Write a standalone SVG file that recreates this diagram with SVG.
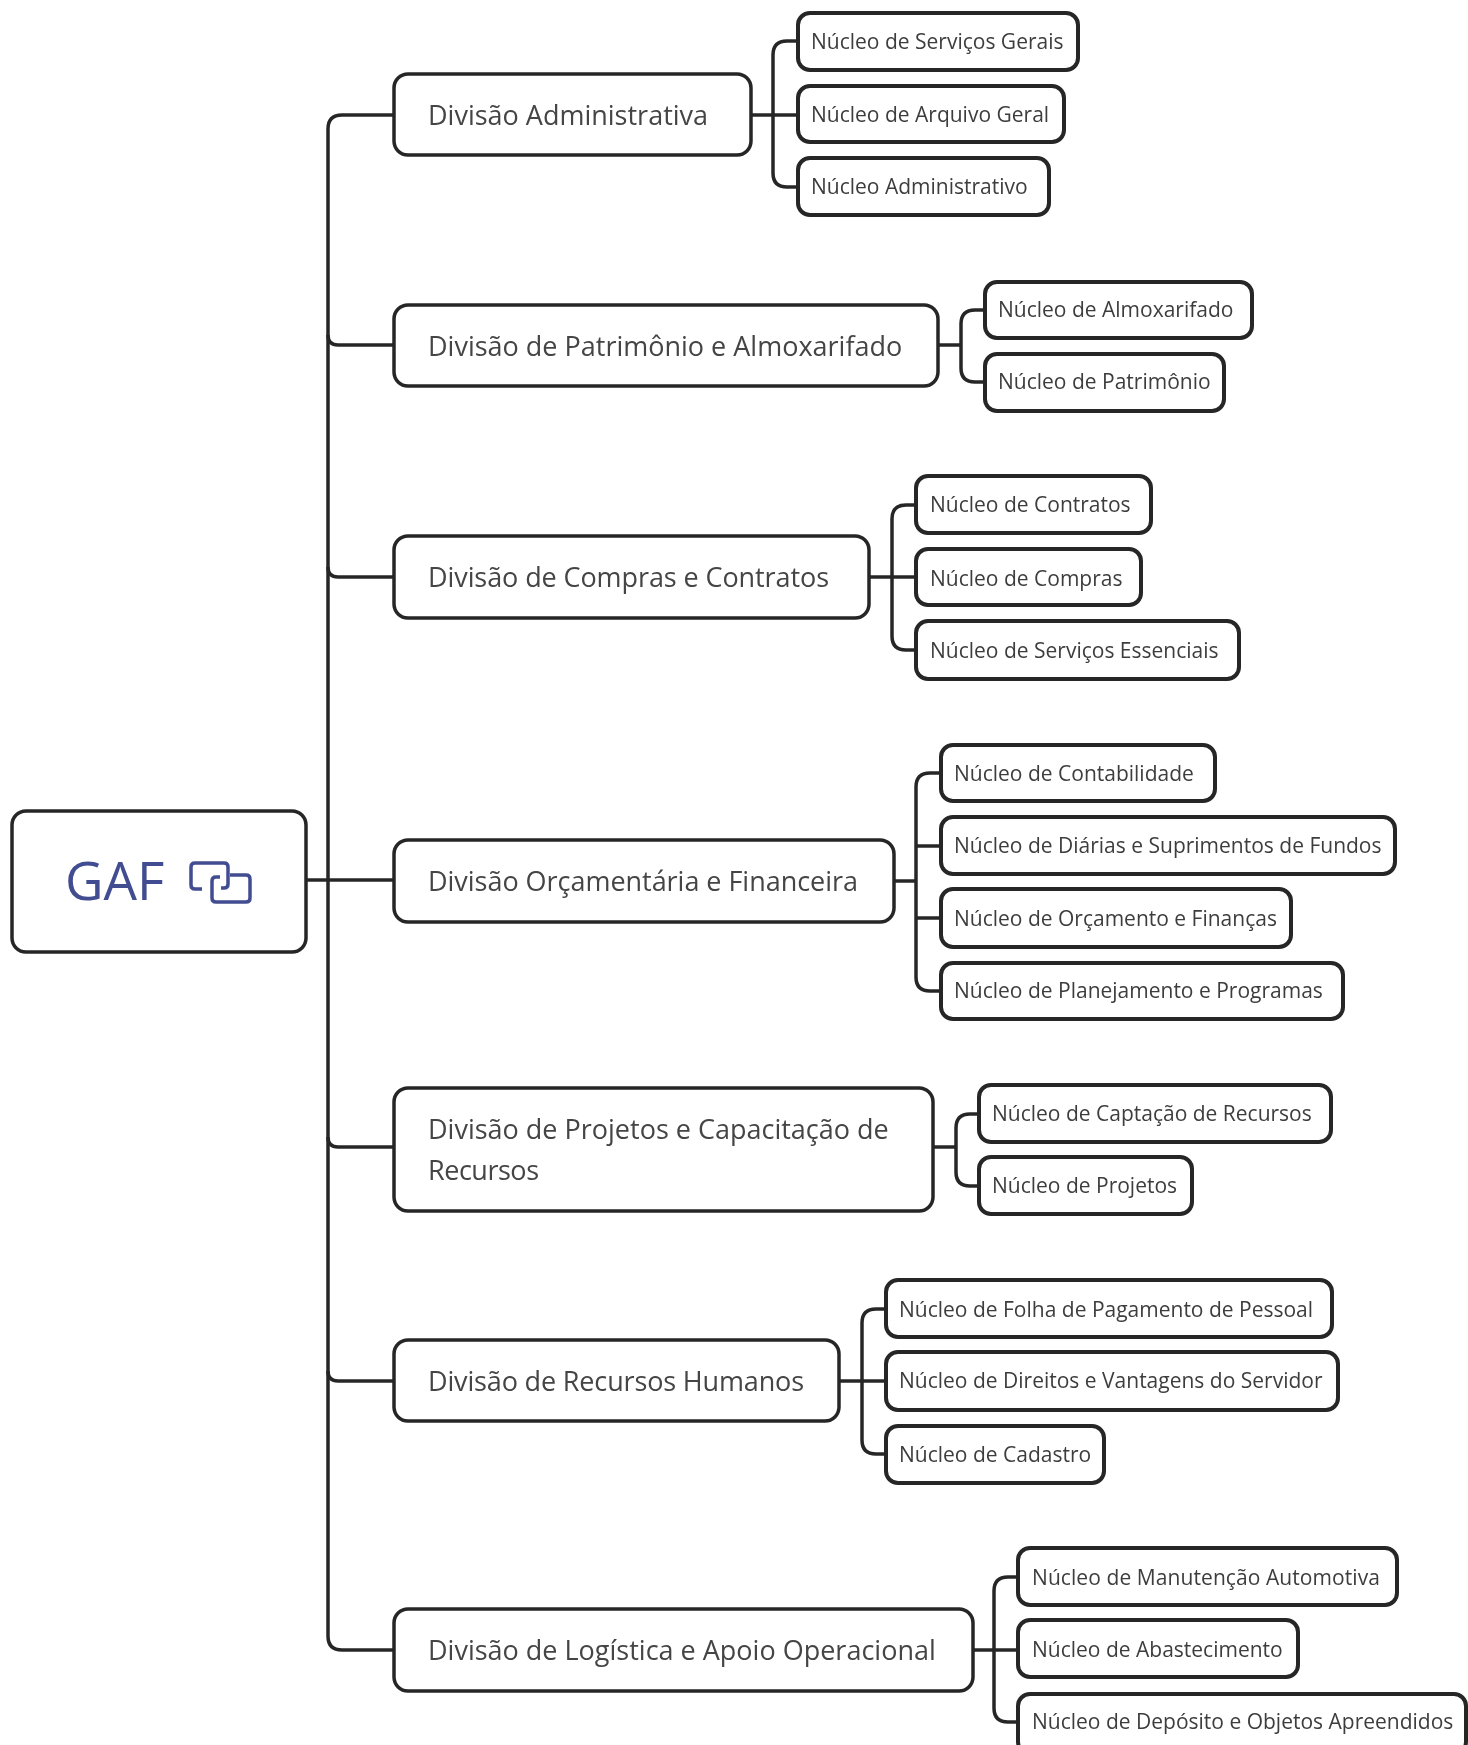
<svg xmlns="http://www.w3.org/2000/svg" width="1468" height="1745" viewBox="0 0 1468 1745">
<defs><style>
.b{fill:#fff;stroke:#262626;stroke-width:3.5}
.s{stroke-width:4}
.c{fill:none;stroke:#262626;stroke-width:3.5}
.d{font:27px "Open Sans","Liberation Sans",sans-serif;fill:#454545}
.l{font:21px "Open Sans","Liberation Sans",sans-serif;fill:#3d3d3d}
.g{font:53px "Open Sans","Liberation Sans",sans-serif;fill:#434e91}
</style>
<filter id="s" x="-2%" y="-2%" width="104%" height="104%"><feGaussianBlur stdDeviation="0.7"/></filter></defs>
<rect width="1468" height="1745" fill="#fff"/>
<g filter="url(#s)">
<g id="connectors" class="c">
<path d="M306 880H394"/>
<path d="M394 115H342Q328 115 328 129V1636Q328 1650 342 1650H394"/>
<path d="M328 335Q328 345 338 345H394M328 567Q328 577 338 577H394M328 1137Q328 1147 338 1147H394M328 1371Q328 1381 338 1381H394"/>
<path d="M751 115H798M773 115V55Q773 41 787 41H798M773 115V173Q773 187 787 187H798"/>
<path d="M938 345H961M961 345V324Q961 310 975 310H985M961 345V368Q961 382 975 382H985"/>
<path d="M869 577H916M892 577V519Q892 505 906 505H916M892 577V636Q892 650 906 650H916"/>
<path d="M894 881H916M916 787Q916 773 930 773H940M916 787V977Q916 991 930 991H940M916 846H940M916 918H940"/>
<path d="M933 1147H956M956 1147V1128Q956 1114 970 1114H979M956 1147V1172Q956 1186 970 1186H979"/>
<path d="M839 1381H886M862 1381V1323Q862 1309 876 1309H886M862 1381V1440Q862 1454 876 1454H886"/>
<path d="M973 1650H1018M994 1650V1591Q994 1577 1008 1577H1018M994 1650V1708Q994 1722 1008 1722H1018"/>
</g>
<g id="root"><rect class="b" x="12" y="811" width="294" height="141" rx="14"/><text class="g" x="65" y="900">GAF</text>
<path d="M202 889H195Q191 889 191 885V867Q191 863 195 863H224Q228 863 228 867V884Q228 888 224 888H221M230 875H246Q250 875 250 879V898Q250 902 246 902H216Q212 902 212 898V881Q212 877 216 877H220" fill="none" stroke="#434e91" stroke-width="3.5"/></g>
<g id="d1"><rect class="b" x="394" y="74" width="357" height="81" rx="14"/><text class="d" x="428" y="125">Divisão Administrativa</text></g>
<g id="d2"><rect class="b" x="394" y="305" width="544" height="81" rx="14"/><text class="d" x="428" y="356">Divisão de Patrimônio e Almoxarifado</text></g>
<g id="d3"><rect class="b" x="394" y="536" width="475" height="82" rx="14"/><text class="d" x="428" y="587" textLength="401">Divisão de Compras e Contratos</text></g>
<g id="d4"><rect class="b" x="394" y="840" width="500" height="82" rx="14"/><text class="d" x="428" y="891" textLength="430">Divisão Orçamentária e Financeira</text></g>
<g id="d5"><rect class="b" x="394" y="1088" width="539" height="123" rx="14"/><text class="d" x="428" y="1139">Divisão de Projetos e Capacitação de</text><text class="d" x="428" y="1180" textLength="111">Recursos</text></g>
<g id="d6"><rect class="b" x="394" y="1340" width="445" height="81" rx="14"/><text class="d" x="428" y="1391" textLength="376">Divisão de Recursos Humanos</text></g>
<g id="d7"><rect class="b" x="394" y="1609" width="579" height="82" rx="14"/><text class="d" x="428" y="1660">Divisão de Logística e Apoio Operacional</text></g>
<g id="n11"><rect class="b s" x="798" y="13" width="280" height="57" rx="12"/><text class="l" x="811" y="49">Núcleo de Serviços Gerais</text></g>
<g id="n12"><rect class="b s" x="798" y="86" width="266" height="56" rx="12"/><text class="l" x="811" y="122">Núcleo de Arquivo Geral</text></g>
<g id="n13"><rect class="b s" x="798" y="158" width="251" height="57" rx="12"/><text class="l" x="811" y="194">Núcleo Administrativo</text></g>
<g id="n21"><rect class="b s" x="985" y="282" width="267" height="56" rx="12"/><text class="l" x="998" y="317">Núcleo de Almoxarifado</text></g>
<g id="n22"><rect class="b s" x="985" y="354" width="239" height="57" rx="12"/><text class="l" x="998" y="389">Núcleo de Patrimônio</text></g>
<g id="n31"><rect class="b s" x="916" y="476" width="235" height="57" rx="12"/><text class="l" x="930" y="512">Núcleo de Contratos</text></g>
<g id="n32"><rect class="b s" x="916" y="549" width="225" height="56" rx="12"/><text class="l" x="930" y="586">Núcleo de Compras</text></g>
<g id="n33"><rect class="b s" x="916" y="621" width="323" height="58" rx="12"/><text class="l" x="930" y="658">Núcleo de Serviços Essenciais</text></g>
<g id="n41"><rect class="b s" x="941" y="745" width="274" height="56" rx="12"/><text class="l" x="954" y="781">Núcleo de Contabilidade</text></g>
<g id="n42"><rect class="b s" x="941" y="817" width="454" height="57" rx="12"/><text class="l" x="954" y="853">Núcleo de Diárias e Suprimentos de Fundos</text></g>
<g id="n43"><rect class="b s" x="941" y="889" width="350" height="58" rx="12"/><text class="l" x="954" y="926">Núcleo de Orçamento e Finanças</text></g>
<g id="n44"><rect class="b s" x="941" y="963" width="402" height="56" rx="12"/><text class="l" x="954" y="998">Núcleo de Planejamento e Programas</text></g>
<g id="n51"><rect class="b s" x="979" y="1085" width="352" height="57" rx="12"/><text class="l" x="992" y="1121">Núcleo de Captação de Recursos</text></g>
<g id="n52"><rect class="b s" x="979" y="1157" width="213" height="57" rx="12"/><text class="l" x="992" y="1193">Núcleo de Projetos</text></g>
<g id="n61"><rect class="b s" x="886" y="1280" width="446" height="57" rx="12"/><text class="l" x="899" y="1317">Núcleo de Folha de Pagamento de Pessoal</text></g>
<g id="n62"><rect class="b s" x="886" y="1352" width="452" height="58" rx="12"/><text class="l" x="899" y="1388">Núcleo de Direitos e Vantagens do Servidor</text></g>
<g id="n63"><rect class="b s" x="886" y="1426" width="218" height="57" rx="12"/><text class="l" x="899" y="1462">Núcleo de Cadastro</text></g>
<g id="n71"><rect class="b s" x="1018" y="1548" width="379" height="57" rx="12"/><text class="l" x="1032" y="1585" textLength="348">Núcleo de Manutenção Automotiva</text></g>
<g id="n72"><rect class="b s" x="1018" y="1620" width="280" height="57" rx="12"/><text class="l" x="1032" y="1657">Núcleo de Abastecimento</text></g>
<g id="n73"><rect class="b s" x="1018" y="1694" width="448" height="60" rx="12"/><text class="l" x="1032" y="1729">Núcleo de Depósito e Objetos Apreendidos</text></g>
</g>
</svg>
